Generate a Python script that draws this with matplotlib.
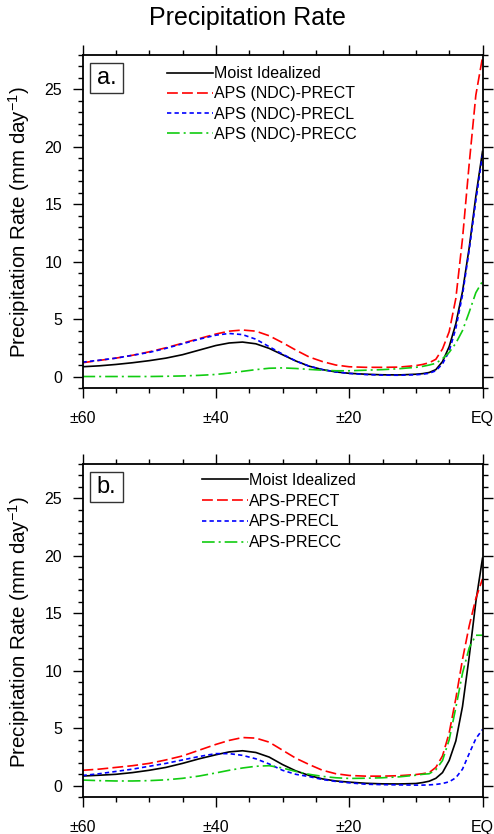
import matplotlib
matplotlib.use("Agg")
import matplotlib.pyplot as plt
from matplotlib.patches import Rectangle

plt.rcParams['font.family'] = ['Liberation Sans', 'DejaVu Sans']
plt.rcParams['mathtext.default'] = 'regular'

# ---------------- data ----------------
lat = [-60, -57.5, -55, -52.5, -50, -47.5, -45, -42.5, -40, -38, -36, -34, -32, -30,
       -28, -26, -24, -22, -20, -17.5, -15, -12.5, -10, -9, -8, -7, -6, -5, -4, -3, -2, -1, 0]

# panel a
moist_a = [0.85, 0.93, 1.05, 1.2, 1.38, 1.6, 1.9, 2.3, 2.7, 2.92, 3.0, 2.85, 2.45, 1.9,
           1.35, 0.9, 0.6, 0.4, 0.28, 0.2, 0.15, 0.14, 0.2, 0.25, 0.35, 0.6, 1.3, 2.6, 4.6, 7.4, 11.2, 15.7, 19.6]
prect_a = [1.2, 1.4, 1.6, 1.85, 2.15, 2.5, 2.9, 3.3, 3.7, 3.95, 4.05, 3.95, 3.55, 2.95,
           2.3, 1.7, 1.3, 1.0, 0.85, 0.8, 0.8, 0.82, 0.95, 1.05, 1.2, 1.5, 2.4, 3.9, 6.8, 12.0, 18.5, 24.5, 27.8]
precl_a = [1.25, 1.42, 1.6, 1.85, 2.1, 2.45, 2.85, 3.25, 3.6, 3.75, 3.65, 3.25, 2.6, 1.95,
           1.35, 0.9, 0.6, 0.4, 0.27, 0.17, 0.12, 0.11, 0.15, 0.2, 0.28, 0.5, 1.1, 2.2, 4.2, 7.1, 11.0, 15.3, 19.3]
precc_a = [0.0, 0.0, 0.0, 0.0, 0.0, 0.02, 0.05, 0.1, 0.18, 0.3, 0.45, 0.6, 0.72, 0.75,
           0.7, 0.62, 0.55, 0.5, 0.5, 0.55, 0.6, 0.68, 0.8, 0.88, 1.0, 1.15, 1.55, 2.1, 2.9, 4.0, 5.6, 7.3, 8.3]

# panel b
moist_b = [0.85, 0.92, 1.0, 1.15, 1.35, 1.6, 1.95, 2.35, 2.7, 2.95, 3.05, 2.9, 2.5, 1.85,
           1.3, 0.9, 0.6, 0.42, 0.32, 0.22, 0.17, 0.16, 0.2, 0.28, 0.4, 0.65, 1.15, 2.2, 3.9, 6.9, 11.2, 16.0, 19.8]
prect_b = [1.35, 1.45, 1.6, 1.75, 1.95, 2.25, 2.6, 3.1, 3.6, 3.95, 4.2, 4.15, 3.8, 3.1,
           2.4, 1.85, 1.35, 1.05, 0.9, 0.84, 0.84, 0.88, 0.98, 1.05, 1.15, 1.6, 2.6, 4.6, 7.6, 11.0, 13.9, 16.3, 18.0]
precl_b = [0.9, 1.05, 1.25, 1.45, 1.7, 1.95, 2.25, 2.55, 2.8, 2.8, 2.65, 2.35, 1.9, 1.35,
           1.0, 0.8, 0.55, 0.38, 0.26, 0.14, 0.1, 0.08, 0.06, 0.06, 0.08, 0.12, 0.2, 0.35, 0.7, 1.45, 2.8, 4.1, 4.9]
precc_b = [0.5, 0.45, 0.42, 0.42, 0.45, 0.52, 0.65, 0.85, 1.12, 1.35, 1.55, 1.7, 1.75, 1.55,
           1.25, 1.0, 0.82, 0.7, 0.64, 0.66, 0.7, 0.78, 0.92, 1.0, 1.05, 1.4, 2.2, 4.0, 6.8, 9.8, 12.0, 13.1, 13.1]

labels_a = ["Moist Idealized", "APS (NDC)-PRECT", "APS (NDC)-PRECL", "APS (NDC)-PRECC"]
labels_b = ["Moist Idealized", "APS-PRECT", "APS-PRECL", "APS-PRECC"]

xtick_pos = [-60, -40, -20, 0]
xtick_labels = ["\u00b160", "\u00b140", "\u00b120", "EQ"]
ytick_pos = [0, 5, 10, 15, 20, 25]

title = "Precipitation Rate"
ylabel = "Precipitation Rate (mm day$^{-1}$)"

# ---------------- styles ----------------
colors = ['black', '#ff0000', '#0000ff', '#11cc11']
dashes = [None, (6.5, 2.5), (2.6, 1.9), (7.6, 2.4, 1.2, 2.4)]
LW = 1.2

W, H = 494, 834
fig = plt.figure(figsize=(W / 100, H / 100), dpi=100)

def px_axes(left, top, right, bottom):
    return fig.add_axes([left / W, 1 - bottom / H, (right - left) / W, (bottom - top) / H])

ax_a = px_axes(82.5, 55, 482.5, 388)
ax_b = px_axes(82.5, 464, 482.5, 797.3)

panels = [
    (ax_a, [moist_a, prect_a, precl_a, precc_a], labels_a, "a.", 0.211, 0.966, 0.32),
    (ax_b, [moist_b, prect_b, precl_b, precc_b], labels_b, "b.", 0.299, 0.973, 0.36),
]

for ax, series, labels, tag, legx, legy, lsp in panels:
    for vals, c, d, lab in zip(series, colors, dashes, labels):
        line, = ax.plot(lat, vals, color=c, lw=LW, label=lab)
        if d is not None:
            line.set_dashes(d)
    ax.set_xlim(-60, 0)
    ax.set_ylim(-1, 28)
    ax.set_xticks(xtick_pos)
    ax.set_xticklabels(xtick_labels)
    ax.set_xticks(range(-60, 1, 5), minor=True)
    ax.set_yticks(ytick_pos)
    ax.set_yticks(range(-1, 29), minor=True)
    ax.tick_params(which='both', direction='out', top=True, right=True,
                   labelsize=11.5, width=1.0, colors='black')
    ax.tick_params(which='major', length=7.2)
    ax.tick_params(axis='x', which='major', pad=9.5)
    ax.tick_params(axis='y', which='major', pad=7.5)
    ax.tick_params(which='minor', length=3.6)
    for s in ax.spines.values():
        s.set_linewidth(1.3)
    ax.set_ylabel(ylabel, fontsize=14.8)
    ax.yaxis.set_label_coords(-0.126, 0.497)

    ax.legend(loc='upper left', bbox_to_anchor=(legx, legy), frameon=False,
              fontsize=11.5, handlelength=2.9, handletextpad=0.05,
              labelspacing=lsp, borderaxespad=0, borderpad=0)

    ax.add_patch(Rectangle((0.019, 0.886), 0.082, 0.09, transform=ax.transAxes,
                           facecolor='white', edgecolor='#333333', lw=1.0, zorder=5))
    ax.text(0.060, 0.931, tag, transform=ax.transAxes, ha='center', va='center',
            fontsize=17, zorder=6)

fig.text(0.5, 1 - 18 / H, title, ha='center', va='center', fontsize=18)

fig.savefig("out.png", dpi=100)
